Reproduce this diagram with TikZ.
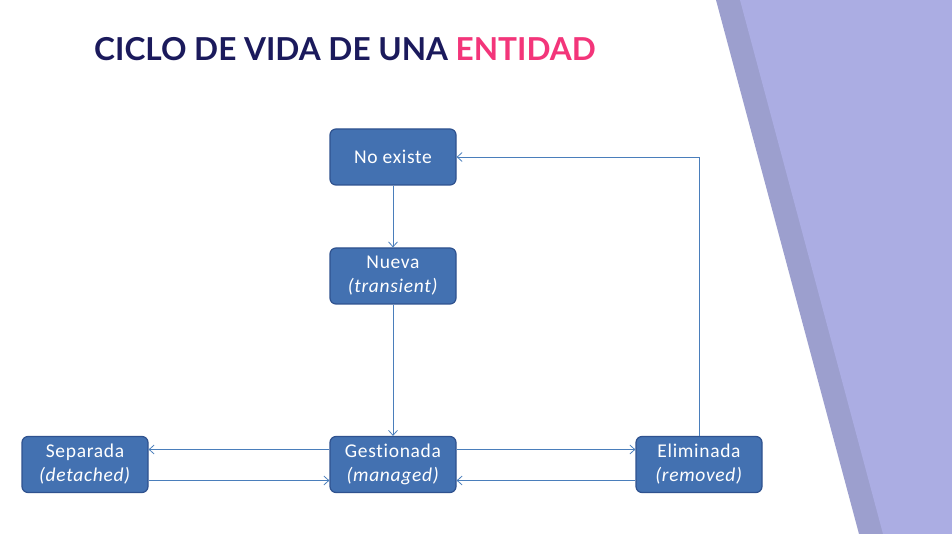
\documentclass[tikz,border=0pt]{standalone}
\usepackage{fontspec}
\setmainfont{Carlito}[Ligatures=NoCommon]
\newfontfamily\titlefont{Lato}
\usepackage{xcolor}
\usetikzlibrary{arrows.meta}

\definecolor{boxblue}{HTML}{4371B1}
\definecolor{boxedge}{HTML}{2F528F}
\definecolor{linkblue}{HTML}{4A7EBB}
\definecolor{navy}{HTML}{1B1A5C}
\definecolor{rosa}{HTML}{F3357A}
\definecolor{banddark}{HTML}{9C9FCE}
\definecolor{bandlight}{HTML}{ABADE3}

\begin{document}
\begin{tikzpicture}[x=1pt,y=-1pt,>={Straight Barb[length=5pt,width=9pt]},node distance=119pt,
    state/.style={draw=boxedge,line width=1.2pt,fill=boxblue,rounded corners=6pt,minimum width=126pt,minimum height=56pt,align=center,text=white,font=\fontsize{19.5}{24}\selectfont\addfontfeatures{LetterSpace=3.5}},
    link/.style={->,draw=linkblue,line width=0.8pt}]

    \useasboundingbox (0,0) rectangle (952,534);
    \fill[white] (0,0) rectangle (952,534);

    % franja de la derecha
    \fill[banddark] (716,0) -- (952,0) -- (952,534) -- (859,534) -- cycle;
    \fill[bandlight] (740,0) -- (952,0) -- (952,534) -- (883,534) -- cycle;

    \node[anchor=base west,inner sep=0pt,font=\titlefont\bfseries\fontsize{31.6}{36}\selectfont] (titulo) at (94,61)
        {\textcolor{navy}{CICLO DE VIDA DE UNA} \textcolor{rosa}{ENTIDAD}};

    \node[state] (noexiste) at (393,157) {No existe};
    \node[state] (nueva) [below of = noexiste] {Nueva\\\textit{(transient)}};
    \node[state] (gestionada) [below of = nueva, node distance=188.5pt] {Gestionada\\\textit{(managed)}};
    \node[state] (separada) [left of = gestionada, node distance=308pt] {Separada\\\textit{(detached)}};
    \node[state] (eliminada) [right of = gestionada, node distance=306pt] {Eliminada\\\textit{(removed)}};

    \draw[link] (noexiste) to (nueva);
    \draw[link] (nueva) to (gestionada);
    \draw[link] ([yshift=15pt]gestionada.west) to ([yshift=15pt]separada.east);
    \draw[link] ([yshift=-16pt]separada.east) to ([yshift=-16pt]gestionada.west);
    \draw[link] ([yshift=15pt]gestionada.east) to ([yshift=15pt]eliminada.west);
    \draw[link] ([yshift=-16pt]eliminada.west) to ([yshift=-16pt]gestionada.east);
    \draw[link] (eliminada.north) |- (noexiste.east);

\end{tikzpicture}
\end{document}
